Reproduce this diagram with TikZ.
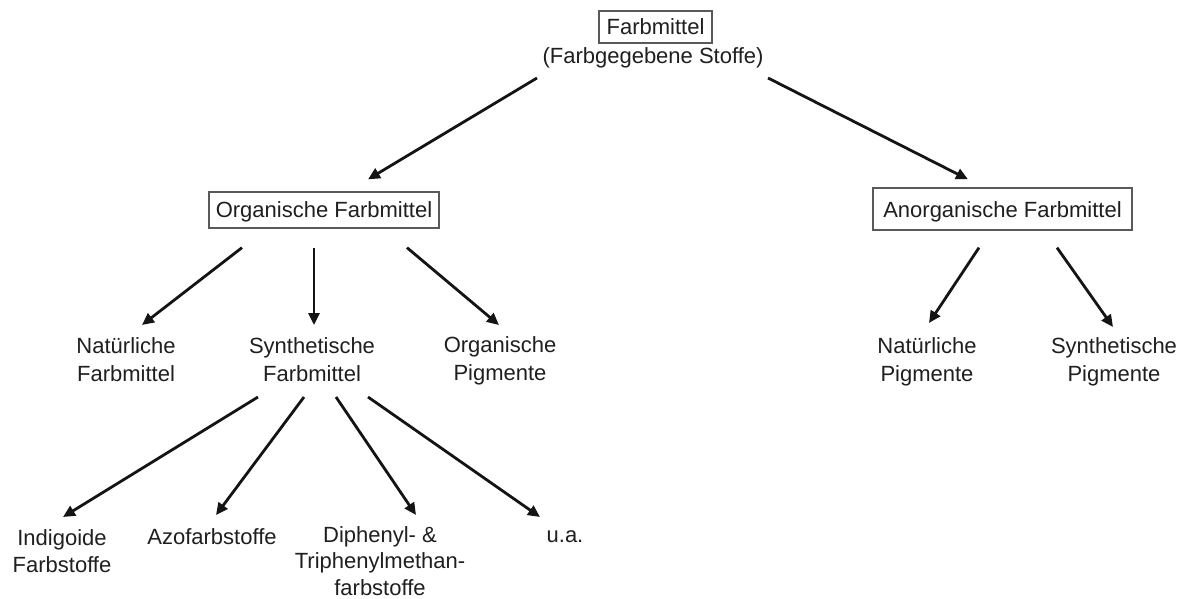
\documentclass[tikz,border=0pt]{standalone}
\usepackage{fontspec}
\setmainfont{Liberation Sans}
\usetikzlibrary{arrows.meta}
\begin{document}
\begin{tikzpicture}[x=1pt,y=-1pt,
  every node/.style={font=\fontsize{22pt}{28pt}\selectfont, text=black!88, inner sep=0pt, align=center},
  lowlbl/.style={font=\fontsize{22pt}{26.5pt}\selectfont},
  boxnode/.style={draw=black!65, line width=1.3pt, text height=16pt, text depth=0pt},
  arr/.style={line width=2.8pt, draw=black!92, -{Triangle[length=12pt,width=11pt]}}]
\fill[white] (0,0) rectangle (1184,599);
\useasboundingbox (0,0) rectangle (1184,599);
% nodes
\node[boxnode, minimum width=113pt, minimum height=32pt] (top) at (655.5,27) {Farbmittel};
\node (sub) at (653,58) {(Farbgegebene Stoffe)};
\node[boxnode, minimum width=230pt, minimum height=36pt] (org) at (324,210) {Organische Farbmittel};
\node[boxnode, minimum width=259pt, minimum height=42pt] (anor) at (1002.5,209) {Anorganische Farbmittel};
\node (natfm) at (126,360) {Natürliche\\Farbmittel};
\node (synfm) at (312,360) {Synthetische\\Farbmittel};
\node (orgpig) at (500,361) {Organische\\Pigmente};
\node (natpig) at (927,362) {Natürliche\\Pigmente};
\node (synpig) at (1114,362) {Synthetische\\Pigmente};
\node[lowlbl] (indig) at (62,551) {Indigoide\\Farbstoffe};
\node[lowlbl] (azo) at (212,537) {Azofarbstoffe};
\node[lowlbl] (diph) at (380,561) {Diphenyl- \&\\Triphenylmethan-\\farbstoffe};
\node[lowlbl] (ua) at (565,537) {u.a.};
% connectors
\draw[arr] ([shift={(-116,20)}]sub.center) -- ([shift={(44,-12)}]org.north);
\draw[arr] ([shift={(115,20)}]sub.center) -- ([shift={(-34.5,-8)}]anor.north);
\draw[arr] ([shift={(-82,19)}]org.south) -- ([shift={(16,-35)}]natfm.center);
\draw[arr] ([shift={(-10,19)}]org.south) -- ([shift={(2,-35)}]synfm.center);
\draw[arr] ([shift={(83,19)}]org.south) -- ([shift={(-1,-36)}]orgpig.center);
\draw[arr] ([shift={(-23.5,17)}]anor.south) -- ([shift={(2,-39)}]natpig.center);
\draw[arr] ([shift={(54.5,17)}]anor.south) -- ([shift={(-1,-35)}]synpig.center);
\draw[arr] ([shift={(-54,37)}]synfm.center) -- ([shift={(1,-34)}]indig.center);
\draw[arr] ([shift={(-8,37)}]synfm.center) -- ([shift={(4,-22)}]azo.center);
\draw[arr] ([shift={(24,37)}]synfm.center) -- ([shift={(36,-46)}]diph.center);
\draw[arr] ([shift={(56,37)}]synfm.center) -- ([shift={(-25,-20)}]ua.center);
\end{tikzpicture}
\end{document}
